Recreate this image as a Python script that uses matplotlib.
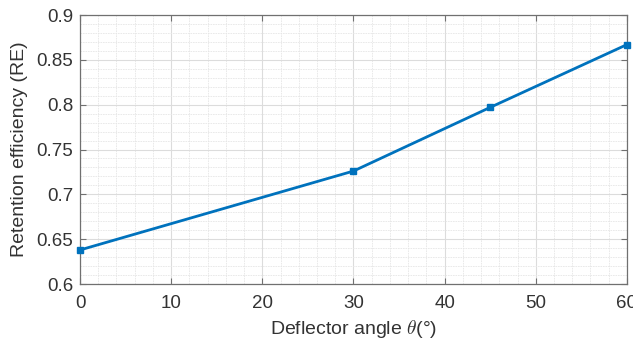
import numpy as np
import matplotlib.pyplot as plt
from matplotlib.ticker import MultipleLocator

# data
angle = [0, 30, 45, 60]
retention = [0.638, 0.726, 0.797, 0.867]

plt.rcParams['font.family'] = ['Liberation Sans', 'DejaVu Sans']
plt.rcParams['mathtext.fontset'] = 'cm'

fig = plt.figure(figsize=(6.33, 3.41), dpi=100)
ax = fig.add_axes([0.1264, 0.167, 0.864, 0.789])

ax.plot(angle, retention, color='#0072BD', lw=2.0, marker='s', ms=4,
        markerfacecolor='#0072BD', clip_on=False, zorder=3)

ax.set_xlim(0, 60)
ax.set_ylim(0.6, 0.9)
ax.xaxis.set_major_locator(MultipleLocator(10))
ax.xaxis.set_minor_locator(MultipleLocator(2))
ax.yaxis.set_minor_locator(MultipleLocator(0.01))
ax.set_yticks(np.arange(0.6, 0.91, 0.05))
ax.set_yticklabels(['0.6', '0.65', '0.7', '0.75', '0.8', '0.85', '0.9'])

ax.grid(which='major', color='#dcdcdc', lw=0.8)
ax.grid(which='minor', color='#e6e6e6', lw=0.6, ls=(0, (2, 1)))
ax.set_axisbelow(True)

ax.tick_params(which='both', direction='in', top=True, right=True,
               labelsize=13.5, labelcolor='#333333', color='#707070', length=4, pad=5)
ax.tick_params(axis='x', pad=8)
ax.tick_params(which='minor', length=0)
for s in ax.spines.values():
    s.set_color('#707070')
    s.set_linewidth(0.9)

ax.set_xlabel(r'Deflector angle $\theta$(°)', fontsize=14, color='#333333', labelpad=4)
ax.set_ylabel('Retention efficiency (RE)', fontsize=14, color='#333333', labelpad=6)

fig.savefig('out.png', dpi=100)
